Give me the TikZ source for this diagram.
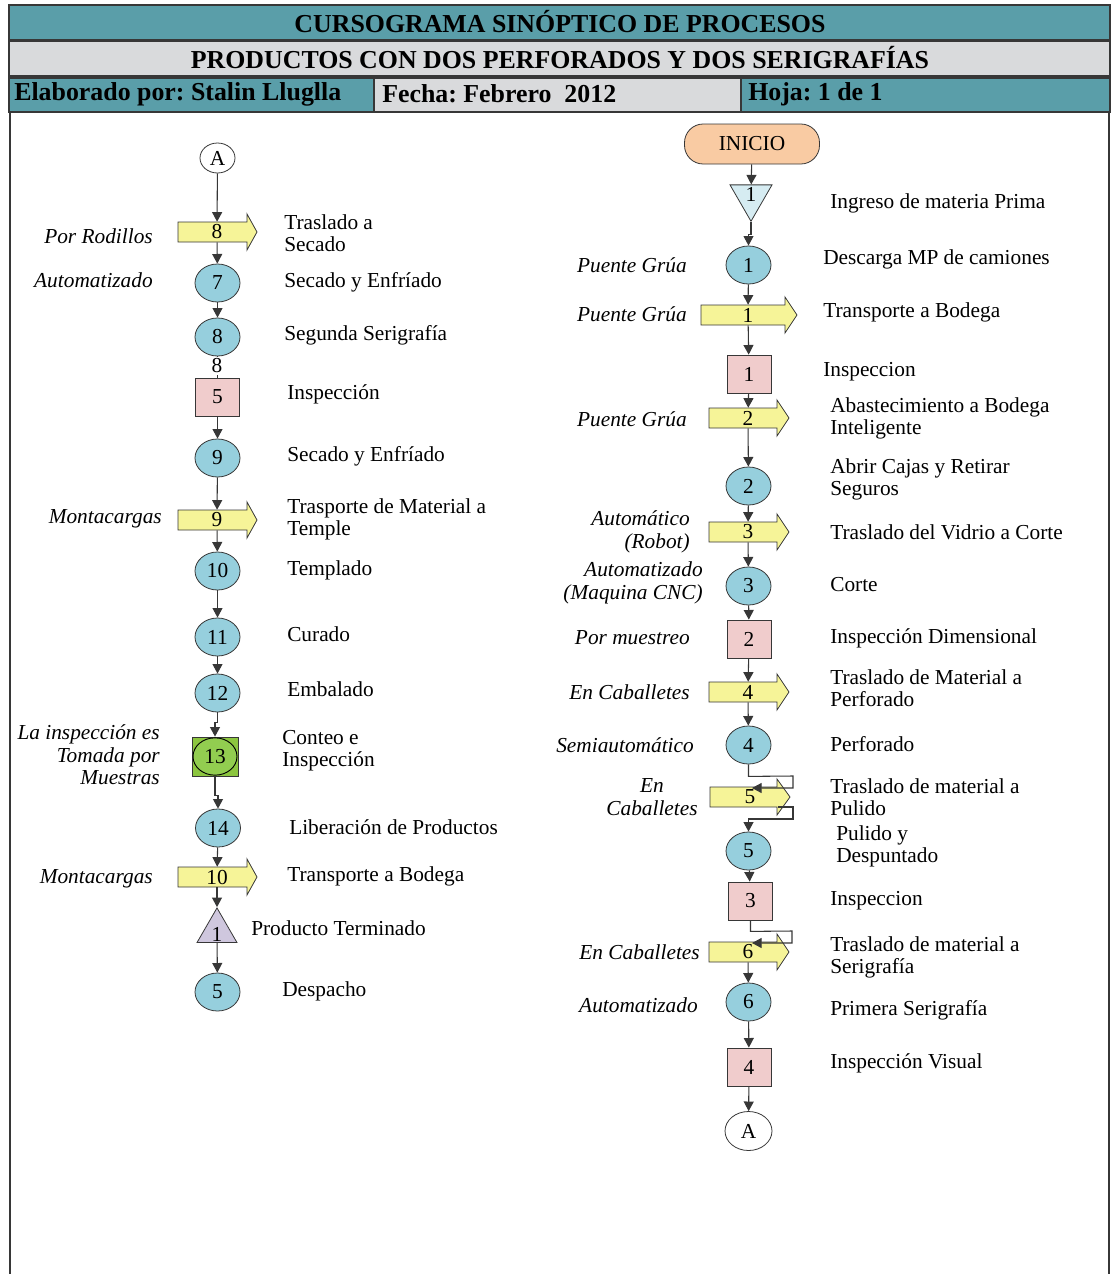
\documentclass[tikz,border=0pt]{standalone}
\usepackage{fontspec}
\setmainfont{Liberation Serif}
\usetikzlibrary{shapes.geometric,arrows.meta}
\frenchspacing
\definecolor{hteal}{RGB}{90,158,169}
\definecolor{hgrey}{RGB}{217,218,220}
\definecolor{opblue}{RGB}{150,207,221}
\definecolor{insppink}{RGB}{240,204,204}
\definecolor{tyellow}{RGB}{246,244,152}
\definecolor{peach}{RGB}{249,203,163}
\definecolor{rcvblue}{RGB}{214,236,242}
\definecolor{lav}{RGB}{207,199,222}
\definecolor{grn}{RGB}{140,198,63}
\definecolor{grnb}{RGB}{146,205,80}
\definecolor{edgec}{RGB}{55,55,55}
\newcommand{\descfont}{\fontsize{16}{16.5}\selectfont}
\newcommand{\labfont}{\fontsize{16}{17}\selectfont\itshape}
\newcommand{\numfont}{\fontsize{16}{16}\selectfont}
\newcommand{\hdfont}{\fontsize{19.4}{20}\selectfont\bfseries}
\newcommand{\myTarrow}[4]{\draw[tshape] (#2,#1-10) -- (#3,#1-10) -- (#3,#1-18) -- (#4,#1) -- (#3,#1+18) -- (#3,#1+10) -- (#2,#1+10) -- cycle;}
\begin{document}
\frenchspacing
\begin{tikzpicture}[x=0.75pt,y=-0.75pt,
  conn/.style={draw=edgec, line width=0.8pt, -{Triangle[length=7.2pt,width=7.5pt]}},
  plainline/.style={draw=edgec, line width=0.8pt},
  hbox/.style={draw=edgec, line width=1.1pt},
  htext/.style={font=\hdfont, inner sep=0pt},
  opnode/.style={ellipse, draw=edgec, line width=0.6pt, fill=opblue, minimum width=33.75pt, minimum height=28.5pt, inner sep=0pt, font=\numfont},
  insp/.style={rectangle, draw=edgec, line width=0.6pt, fill=insppink, minimum width=33pt, minimum height=28.5pt, inner sep=0pt, font=\numfont},
  tnum/.style={inner sep=0pt, minimum height=15pt, minimum width=8pt, font=\numfont},
  tshape/.style={draw=edgec, line width=0.6pt, fill=tyellow},
  conA/.style={ellipse, draw=edgec, line width=0.6pt, fill=white, inner sep=0pt, font=\numfont},
  desc/.style={anchor=west, align=left, font=\descfont, inner sep=0pt},
  lab/.style={anchor=east, align=right, font=\labfont, inner sep=0pt}
]
\useasboundingbox (0,0) rectangle (1112,1274);
% ---------- header ----------
\draw[hbox, fill=hteal] (9,5) rectangle (1110,40);
\draw[hbox, fill=hgrey] (9,41) rectangle (1110,76);
\draw[hbox, fill=hteal] (9,78) rectangle (374,112);
\draw[hbox, fill=hgrey] (374,78) rectangle (741,112);
\draw[hbox, fill=hteal] (741,78) rectangle (1110,112);
\draw[line width=1.8pt, edgec] (10,112) -- (10,1274);
\draw[line width=1.1pt, edgec] (1109,112) -- (1109,1274);
\node[htext] (h1) at (560,22) {CURSOGRAMA SINÓPTICO DE PROCESOS};
\node[htext] (h2) at (560,58) {PRODUCTOS CON DOS PERFORADOS Y DOS SERIGRAFÍAS};
\node[htext, anchor=west] (h3) at (14,94) {Elaborado por: Stalin Lluglla};
\node[htext, anchor=west] (h4) at (382,94) {Fecha: Febrero\ \ 2012};
\node[htext, anchor=west] (h5) at (748,94) {Hoja: 1 de 1};

% ---------- left column ----------
\myTarrow{232}{178}{247}{257}
\myTarrow{520}{178}{247}{257}
\myTarrow{877}{178}{247}{257}
\node[conA, minimum width=26.25pt, minimum height=22.5pt] (aL) at (217.5,158) {A};
\node[tnum] (t8) at (217,232) {8};
\node[opnode] (c7) at (217.5,283) {7};
\node[opnode] (c8) at (217.5,337) {8};
\node[insp] (b5) at (217.5,397) {5};
\node[opnode] (c9) at (217.5,458) {9};
\node[tnum] (t9) at (217,520) {9};
\node[opnode] (c10) at (217.5,571) {10};
\node[opnode] (c11) at (217.5,637) {11};
\node[opnode] (c12) at (217.5,693) {12};
\node[rectangle, draw=edgec, line width=0.6pt, fill=grn, minimum width=34.5pt, minimum height=29.25pt, inner sep=0pt] (b13) at (215,756.5) {};
\node[ellipse, draw=black, line width=0.7pt, fill=grnb, minimum width=33pt, minimum height=28pt, inner sep=0pt, font=\numfont] (e13) at (215,756.5) {13};
\node[opnode] (c14) at (218,828) {14};
\node[tnum] (t10) at (217,877) {10};
\node[regular polygon, regular polygon sides=3, draw=edgec, line width=0.6pt, fill=lav, minimum size=34.6pt, inner sep=0pt, font=\numfont] (s1) at (217,931) {};
\node[font=\numfont, inner sep=0pt] (s1n) at (217,934) {1};
\node[opnode] (c5d) at (217.5,992) {5};

\draw[conn] (aL) -- (t8);
\draw[conn] (t8) -- (c7);
\draw[conn] (c7) -- (c8);
\draw[plainline] (c8) -- (b5);
\node[fill=white, inner sep=1pt, font=\numfont] (n8) at (217,366) {8};
\draw[conn] (b5) -- (c9);
\draw[conn] (c9) -- (t9);
\draw[conn] (t9) -- (c10);
\draw[conn] (c10) -- (c11);
\draw[conn] (c11) -- (c12);
\draw[conn] (c12.south) -- ++(0,10) -| (b13.north);
\draw[conn] (b13.south) -- ++(0,19) -| (c14.north);
\draw[conn] (c14) -- (t10);
\draw[conn] (t10) -- (s1);
\draw[conn] (s1) -- (c5d);

\node[desc] (d1) at (284,233) {Traslado a\\Secado};
\node[desc] (d2) at (284,282) {Secado y Enfríado};
\node[desc] (d3) at (284,335) {Segunda Serigrafía};
\node[desc] (d4) at (287,394) {Inspección};
\node[desc] (d5) at (287,456) {Secado y Enfríado};
\node[desc] (d6) at (287,519) {Trasporte de Material a\\Temple};
\node[desc] (d7) at (287,570) {Templado};
\node[desc] (d8) at (287,634) {Curado};
\node[desc] (d9) at (287,689) {Embalado};
\node[desc] (d10) at (282,751) {Conteo e\\Inspección};
\node[desc] (d11) at (289,827) {Liberación de Productos};
\node[desc] (d12) at (287,876) {Transporte a Bodega};
\node[desc] (d13) at (251,928) {Producto Terminado};
\node[desc] (d14) at (282,991) {Despacho};

\node[lab] (l1) at (153,236) {Por Rodillos};
\node[lab] (l2) at (153,280) {Automatizado};
\node[lab] (l3) at (162,519) {Montacargas};
\node[lab] (l4) at (160,755) {La inspección es\\Tomada por\\Muestras};
\node[lab] (l5) at (153,879) {Montacargas};

% ---------- right column ----------
\myTarrow{315}{701}{785}{797}
\myTarrow{418}{709}{777}{789}
\myTarrow{532}{709}{777}{789}
\myTarrow{692}{709}{777}{789}
\myTarrow{797}{710}{777}{790}
\myTarrow{952}{709}{777}{789}
\node[rectangle, rounded corners=14pt, draw=edgec, line width=0.6pt, fill=peach, minimum width=101.25pt, minimum height=30pt, inner sep=0pt, font=\numfont] (ini) at (752,144) {INICIO};
\node[regular polygon, regular polygon sides=3, shape border rotate=180, draw=edgec, line width=0.6pt, fill=rcvblue, minimum size=36.4pt, inner sep=0pt] (r1) at (751,197) {};
\node[font=\numfont, inner sep=0pt] (r1n) at (751,194) {1};
\node[opnode] (q1) at (748.5,265) {1};
\node[tnum] (u1) at (748,315) {1};
\node[insp] (i1) at (749,374) {1};
\node[tnum] (u2) at (748,418) {2};
\node[opnode] (q2) at (748.5,486) {2};
\node[tnum] (u3) at (748,532) {3};
\node[opnode] (q3) at (748.5,586) {3};
\node[insp] (i2) at (749,639) {2};
\node[tnum] (u4) at (748,692) {4};
\node[opnode] (q4) at (748.5,745) {4};
\node[tnum] (u5) at (750,797) {5};
\coordinate (u5in) at (752,788);
\coordinate (u5out) at (778,807);
\node[opnode] (q5) at (748.5,851) {5};
\node[insp] (i3) at (750.5,901) {3};
\node[tnum] (u6) at (748,952) {6};
\coordinate (u6in) at (752,943);
\node[opnode] (q6) at (748.5,1002) {6};
\node[insp] (i4) at (749,1067) {4};
\node[conA, minimum width=35.25pt, minimum height=29.25pt] (aR) at (748.5,1131) {A};

\draw[conn] (ini) -- (r1);
\draw[conn] (r1.corner 1) -- ++(0,12) -| (q1.north);
\draw[conn] (q1) -- (u1);
\draw[conn] (u1) -- (i1);
\draw[conn] (i1) -- (u2);
\draw[conn] (u2) -- (q2);
\draw[conn] (q2) -- (u3);
\draw[conn] (u3) -- (q3);
\draw[conn] (q3) -- (i2);
\draw[conn] (i2) -- (u4);
\draw[conn] (u4) -- (q4);
\draw[conn] (q4.south) -- ++(0,12) -- (793,776) -- (793,788) -- (u5in);
\draw[conn] (u5out) -- (793,807) -- (793,819) -- (748.5,819) -- (q5.north);
\draw[conn] (q5) -- (i3);
\draw[conn] (i3.south) -- ++(0,11) -- (792,931) -- (792,943) -- (u6in);
\draw[conn] (u6) -- (q6);
\draw[conn] (q6) -- (i4);
\draw[conn] (i4) -- (aR);

\node[desc] (e1) at (830,203) {Ingreso de materia Prima};
\node[desc] (e2) at (823,259) {Descarga MP de camiones};
\node[desc] (e3) at (823,312) {Transporte a Bodega};
\node[desc] (e4) at (823,372) {Inspeccion};
\node[desc] (e5) at (830,418) {Abastecimiento a Bodega\\Inteligente};
\node[desc] (e6) at (830,479) {Abrir Cajas y Retirar\\Seguros};
\node[desc] (e7) at (830,532) {Traslado del Vidrio a Corte};
\node[desc] (e8) at (830,585) {Corte};
\node[desc] (e9) at (830,638) {Inspección Dimensional};
\node[desc] (e10) at (830,688) {Traslado de Material a\\Perforado};
\node[desc] (e11) at (830,744) {Perforado};
\node[desc] (e12) at (830,797) {Traslado de material a\\Pulido};
\node[desc] (e13) at (836,846) {Pulido y\\Despuntado};
\node[desc] (e14) at (830,901) {Inspeccion};
\node[desc] (e15) at (830,957) {Traslado de material a\\Serigrafía};
\node[desc] (e16) at (830,1010) {Primera Serigrafía};
\node[desc] (e17) at (830,1063) {Inspección Visual};

\node[lab] (m1) at (687,265) {Puente Grúa};
\node[lab] (m2) at (687,314) {Puente Grúa};
\node[lab] (m3) at (687,419) {Puente Grúa};
\node[lab] (m4) at (690,532) {Automático\\(Robot)};
\node[lab] (m5) at (703,583) {Automatizado\\(Maquina CNC)};
\node[lab] (m6) at (690,638) {Por muestreo};
\node[lab] (m7) at (690,692) {En Caballetes};
\node[lab] (m8) at (694,745) {Semiautomático};
\node[font=\labfont, align=center, inner sep=0pt] (m9) at (652,797) {En\\Caballetes};
\node[lab] (m10) at (700,952) {En Caballetes};
\node[lab] (m11) at (698,1005) {Automatizado};
\end{tikzpicture}
\end{document}
